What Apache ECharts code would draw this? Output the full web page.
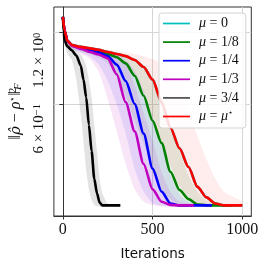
<!DOCTYPE html>
<html><head><meta charset="utf-8">
<script src="https://cdn.jsdelivr.net/npm/echarts@6/dist/echarts.min.js"></script>
<style>html,body{margin:0;padding:0;background:#fff}#c{width:266px;height:266px}</style>
</head><body><div id="c"></div>
<script>
// ---- data (iterations, mean error, lower/upper band) ----
const xTicks = [0, 500, 1000];
const yTicks = [0.6, 1.2];

const iterR = [0,10,25,50,100,150,200,250,300,350,400,450,500,550,600,650,700,750,800,850,900,1000];
const meanR = [1.40,1.22,1.11,1.065,1.045,1.03,1.015,0.995,0.975,0.955,0.92,0.86,0.76,0.61,0.475,0.39,0.325,0.268,0.242,0.228,0.224,0.224];
const loR   = [1.40,1.20,1.09,1.045,1.02,1.0,0.985,0.965,0.94,0.89,0.80,0.66,0.51,0.41,0.33,0.27,0.243,0.229,0.224,0.222,0.221,0.221];
const hiR   = [1.40,1.24,1.13,1.09,1.065,1.05,1.035,1.02,1.005,0.99,0.975,0.955,0.93,0.89,0.82,0.72,0.56,0.44,0.35,0.29,0.255,0.232];

const iterG = [0,10,25,50,100,150,200,250,300,350,400,450,500,550,600,650,700,750,800,940];
const meanG = [1.40,1.22,1.11,1.06,1.04,1.02,1.0,0.975,0.945,0.89,0.79,0.65,0.51,0.41,0.31,0.26,0.238,0.226,0.224,0.224];
const loG   = [1.40,1.20,1.09,1.04,1.0,0.975,0.945,0.89,0.79,0.65,0.51,0.41,0.31,0.26,0.238,0.226,0.223,0.221,0.221,0.221];
const hiG   = [1.40,1.24,1.13,1.085,1.06,1.045,1.03,1.01,0.99,0.96,0.92,0.86,0.76,0.62,0.49,0.38,0.30,0.255,0.235,0.226];

const iterB = [0,10,25,50,100,150,200,250,300,350,400,450,500,550,600,650,700,830];
const meanB = [1.40,1.22,1.11,1.06,1.035,1.01,0.99,0.955,0.88,0.75,0.60,0.45,0.32,0.256,0.228,0.224,0.224,0.224];
const loB   = [1.40,1.20,1.09,1.035,0.99,0.955,0.88,0.75,0.60,0.45,0.32,0.256,0.228,0.223,0.221,0.221,0.221,0.221];
const hiB   = [1.40,1.24,1.13,1.085,1.055,1.035,1.015,0.995,0.97,0.93,0.83,0.68,0.53,0.40,0.30,0.25,0.232,0.226];

const iterM = [0,10,25,50,100,150,200,250,300,350,400,450,500,550,600,650,730];
const meanM = [1.40,1.22,1.11,1.055,1.025,0.995,0.97,0.935,0.80,0.61,0.46,0.335,0.262,0.232,0.225,0.224,0.224];
const loM   = [1.40,1.20,1.09,1.03,0.98,0.93,0.82,0.63,0.46,0.335,0.262,0.232,0.225,0.222,0.221,0.221,0.221];
const hiM   = [1.40,1.24,1.13,1.08,1.05,1.025,1.0,0.98,0.95,0.89,0.72,0.55,0.42,0.31,0.255,0.232,0.226];

const iterK = [0,5,10,25,50,75,100,115,130,145,160,175,190,205,220,250,280,320];
const meanK = [1.40,1.20,1.11,1.05,1.01,0.96,0.87,0.76,0.64,0.49,0.38,0.29,0.252,0.23,0.224,0.224,0.224,0.224];
const loK   = [1.40,1.16,1.08,0.98,0.92,0.76,0.54,0.415,0.315,0.262,0.236,0.225,0.222,0.221,0.221,0.221,0.221,0.221];
const hiK   = [1.40,1.25,1.16,1.10,1.06,1.015,0.97,0.93,0.87,0.76,0.64,0.49,0.38,0.29,0.252,0.228,0.227,0.227];

// mu = 0 coincides with mu = mu* (hidden beneath the red curve)
const iterC = iterR;
const meanC = meanR;

const names = ['μ = 0','μ = 1/8','μ = 1/4','μ = 1/3','μ = 3/4','μ = μ*'];
const colors = ['#00bfbf','#008000','#0000ff','#bf00bf','#000000','#ff0000'];

// ---- build ----
function pairs(xs, ys){ return xs.map((x,i)=>[x, ys[i]]); }
function band(xs, lo, hi, fill){
  return {
    type:'custom', silent:true, z:1, clip:true,
    data:[[xs[0], lo[0]]],
    encode:{x:0,y:1},
    renderItem:(params, api)=>{
      const pts=[];
      for(let i=0;i<xs.length;i++) pts.push(api.coord([xs[i], hi[i]]));
      for(let i=xs.length-1;i>=0;i--) pts.push(api.coord([xs[i], lo[i]]));
      return {type:'polygon', shape:{points:pts, smooth:0.2}, style:{fill:fill}};
    }
  };
}
function line(name, xs, ys, color, extra){
  return Object.assign({
    type:'line', name:name, data:pairs(xs, ys), symbol:'none', showSymbol:false,
    smooth:0.25, smoothMonotone:'x', z:3, clip:true,
    lineStyle:{color:color, width:2.6}, itemStyle:{color:color}
  }, extra||{});
}

const gridMark = {
  silent:true, symbol:['none','none'], z:0, label:{show:false},
  lineStyle:{color:'#d6d6d6', width:1, type:'solid'},
  data:[{xAxis:0},{xAxis:500},{xAxis:1000},{yAxis:0.6},{yAxis:1.2}]
};

const series = [
  band(iterG, loG, hiG, 'rgba(0,128,0,0.10)'),
  band(iterB, loB, hiB, 'rgba(0,0,255,0.085)'),
  band(iterM, loM, hiM, 'rgba(191,0,191,0.10)'),
  band(iterK, loK, hiK, 'rgba(0,0,0,0.11)'),
  band(iterR, loR, hiR, 'rgba(255,0,0,0.07)'),
  line(names[0], iterC, meanC, colors[0], {markLine:gridMark}),
  line(names[1], iterG, meanG, colors[1]),
  line(names[2], iterB, meanB, colors[2]),
  line(names[3], iterM, meanM, colors[3]),
  line(names[4], iterK, meanK, colors[4]),
  line(names[5], iterR, meanR, colors[5])
];

const legendRich = {
  i:{fontFamily:'Liberation Serif', fontStyle:'italic', fontSize:14, color:'#111'},
  n:{fontFamily:'Liberation Serif', fontSize:14, color:'#111'},
  s:{fontFamily:'DejaVu Serif', fontSize:8, color:'#111', verticalAlign:'top', lineHeight:10}
};
function legendFmt(name){
  const rhs = name.split('= ')[1];
  if (rhs === 'μ*') return '{i|μ}{n| = }{i|μ}{s|⋆}';
  return '{i|μ}{n| = ' + rhs + '}';
}

const serif = 'Liberation Serif';
const chart = echarts.init(document.getElementById('c'), null, {renderer:'canvas'});
chart.setOption({
  animation:false,
  backgroundColor:'#fff',
  grid:{left:51, top:7, right:14.7, bottom:48, show:true, borderColor:'#333', borderWidth:1, backgroundColor:'transparent'},
  legend:{
    orient:'vertical', left:159, top:13, itemWidth:27, itemHeight:1.7, itemGap:3.6, icon:'rect',
    padding:[3,7,4,4], backgroundColor:'rgba(255,255,255,0.85)', borderColor:'#d4d4d4',
    borderWidth:1, borderRadius:3,
    textStyle:{fontFamily:serif, fontSize:14, color:'#111', lineHeight:15, padding:[0,0,0,4], rich:legendRich},
    formatter:legendFmt,
    data:names.map((n,i)=> i===4 ? {name:n, itemStyle:{color:'#4d4d4d'}} : {name:n})
  },
  xAxis:{
    type:'value', min:-50, max:1050,
    axisLine:{show:true, lineStyle:{color:'#333'}},
    axisTick:{show:true, customValues:xTicks, length:3.5, lineStyle:{color:'#333'}},
    axisLabel:{customValues:xTicks, fontFamily:serif, fontSize:16, color:'#111', margin:6, formatter:(v)=>String(v)},
    splitLine:{show:false},
    name:'Iterations', nameLocation:'middle', nameGap:31,
    nameTextStyle:{fontFamily:'DejaVu Sans', fontSize:13.5, color:'#111'}
  },
  yAxis:{
    type:'log', logBase:10, min:0.202, max:1.54,
    axisLine:{show:true, lineStyle:{color:'#333'}},
    axisTick:{show:true, customValues:yTicks, length:3.5, lineStyle:{color:'#333'}},
    axisLabel:{
      customValues:yTicks, rotate:90, align:'right', verticalAlign:'bottom', margin:7,
      fontFamily:serif, fontSize:15, color:'#111',
      formatter:(v)=> Math.abs(v-1.2)<0.05 ? '1.2 × 10{s|0}' : '6 × 10{s|−1}',
      rich:{s:{fontFamily:serif, fontSize:10.5, color:'#111', verticalAlign:'top', lineHeight:10}}
    },
    splitLine:{show:false}, minorTick:{show:false}, minorSplitLine:{show:false},
    name:'{n|‖}{h|ρ̂}{n| − }{i|ρ}{s|⋆}{n|‖}{t|2}{b|F}',
    nameLocation:'middle', nameRotate:90, nameGap:29,
    nameTextStyle:{
      fontFamily:serif, fontSize:16, color:'#111',
      rich:{
        n:{fontFamily:serif, fontSize:16, color:'#111'},
        h:{fontFamily:'DejaVu Serif', fontStyle:'italic', fontSize:15, color:'#111'},
        i:{fontFamily:serif, fontStyle:'italic', fontSize:16, color:'#111'},
        s:{fontFamily:'DejaVu Serif', fontSize:9, color:'#111', verticalAlign:'top', lineHeight:10},
        t:{fontFamily:serif, fontSize:11, color:'#111', verticalAlign:'top', lineHeight:10, width:1},
        b:{fontFamily:serif, fontStyle:'italic', fontSize:11, color:'#111', verticalAlign:'bottom', lineHeight:10}
      }
    }
  },
  series:series
});
</script></body></html>
